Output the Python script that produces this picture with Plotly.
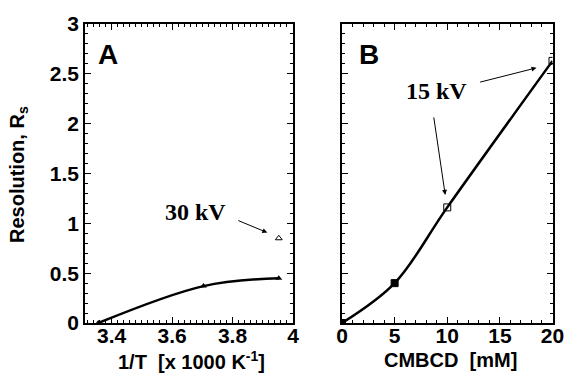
import plotly.graph_objects as go

# Panel A data: 1/T [x1000 K^-1] vs resolution
a_x = [3.356, 3.704, 3.953]
a_y = [0.0, 0.37, 0.45]
a30_x = [3.953]
a30_y = [0.85]

# Panel B data: CMBCD [mM] vs resolution
b_x = [0, 5, 10, 20]
b_y = [0.0, 0.40, 1.16, 2.63]
b_filled = [True, True, False, False]

y_ticks = [0, 0.5, 1, 1.5, 2, 2.5, 3]
y_ticklabels = ["0", "0.5", "1", "1.5", "2", "2.5", "3"]
a_ticks = [3.4, 3.6, 3.8, 4.0]
a_ticklabels = ["3.4", "3.6", "3.8", "4"]
b_ticks = [0, 5, 10, 15, 20]
b_ticklabels = ["0", "5", "10", "15", "20"]

W, H = 566, 374
sans = "Liberation Sans, Arial, sans-serif"
serif = "Liberation Serif, Times New Roman, serif"

fig = go.Figure()

fig.add_trace(go.Scatter(x=a_x, y=a_y, mode="lines+markers", line=dict(color="black", width=2.5, shape="spline"),
                         marker=dict(symbol="triangle-up", size=6, color="black"), xaxis="x", yaxis="y",
                         showlegend=False))
fig.add_trace(go.Scatter(x=a30_x, y=a30_y, mode="markers",
                         marker=dict(symbol="triangle-up-open", size=6, color="black", line=dict(width=1)),
                         xaxis="x", yaxis="y", showlegend=False))
fig.add_trace(go.Scatter(x=b_x, y=b_y, mode="lines", line=dict(color="black", width=2.5, shape="spline"),
                         xaxis="x2", yaxis="y2", showlegend=False))
fig.add_trace(go.Scatter(x=b_x, y=b_y, mode="markers",
                         marker=dict(symbol=["square" if f else "square-open" for f in b_filled], size=7,
                                     color="black", line=dict(width=1, color="black")),
                         xaxis="x2", yaxis="y2", showlegend=False))

common = dict(showline=True, linecolor="black", linewidth=1.5, mirror="allticks", ticks="inside",
              ticklen=6, tickwidth=1, tickcolor="black", showgrid=False, zeroline=False, automargin=False,
              tickfont=dict(family=sans, size=21, color="black", weight="bold"))

x0a, x1a = 85 / W, 293 / W
x0b, x1b = 342 / W, 552.5 / W
y0, y1 = 1 - 323 / H, 1 - 24 / H

fig.update_layout(
    width=W, height=H, margin=dict(l=0, r=0, t=0, b=0, pad=0, autoexpand=False),
    paper_bgcolor="white", plot_bgcolor="white",
    xaxis=dict(domain=[x0a, x1a], range=[3.312, 4.0], tickvals=a_ticks, ticktext=a_ticklabels,
               minor=dict(ticks="inside", ticklen=3, dtick=0.02, tick0=3.4, tickcolor="black"),
               anchor="y", ticklabelstandoff=-7, **common),
    yaxis=dict(domain=[y0, y1], range=[0, 3], tickvals=y_ticks, ticktext=y_ticklabels,
               minor=dict(ticks="inside", ticklen=3, dtick=0.1, tick0=0, tickcolor="black"),
               anchor="x", **common),
    xaxis2=dict(domain=[x0b, x1b], range=[0, 20], tickvals=b_ticks, ticktext=b_ticklabels,
                minor=dict(ticks="inside", ticklen=3, dtick=1, tick0=0, tickcolor="black"),
                anchor="y2", ticklabelstandoff=-7, **common),
    yaxis2=dict(domain=[y0, y1], range=[0, 3], tickvals=y_ticks, showticklabels=False,
                minor=dict(ticks="inside", ticklen=3, dtick=0.1, tick0=0, tickcolor="black"),
                anchor="x2", **common),
)

ann = []
tf = dict(family=sans, size=20, color="black", weight="bold")
# axis titles
ann.append(dict(xref="paper", yref="paper", x=191 / W, y=1 - 360 / H, xanchor="center", yanchor="middle",
                text="1/T  [x 1000 K<sup>-1</sup>]", showarrow=False, font=tf))
ann.append(dict(xref="paper", yref="paper", x=450 / W, y=1 - 360 / H, xanchor="center", yanchor="middle",
                text="CMBCD  [mM]", showarrow=False, font=tf))
ann.append(dict(xref="paper", yref="paper", x=18 / W, y=1 - 175 / H, xanchor="center", yanchor="middle",
                text="Resolution, R<sub>s</sub>", textangle=-90, showarrow=False, font=tf))
# panel letters
ann.append(dict(xref="x", yref="y", x=3.388, y=2.69, text="A", showarrow=False,
                font=dict(family=sans, size=28, color="black", weight="bold")))
ann.append(dict(xref="x2", yref="y2", x=2.57, y=2.69, text="B", showarrow=False,
                font=dict(family=sans, size=28, color="black", weight="bold")))
# voltage labels
ann.append(dict(xref="x", yref="y", x=3.679, y=1.114, text="30 kV", showarrow=False,
                font=dict(family=serif, size=24, color="black", weight="bold")))
ann.append(dict(xref="x2", yref="y2", x=8.95, y=2.33, text="15 kV", showarrow=False,
                font=dict(family=serif, size=24, color="black", weight="bold")))
# arrows
arrows = [
    ("x", "y", 3.814, 1.034, 3.915, 0.907),
    ("x2", "y2", 12.98, 2.413, 18.48, 2.56),
    ("x2", "y2", 8.70, 2.078, 9.81, 1.285),
]
for xr, yr, tx, ty, hx, hy in arrows:
    ann.append(dict(xref=xr, yref=yr, axref=xr, ayref=yr, x=hx, y=hy, ax=tx, ay=ty, text="",
                    showarrow=True, arrowhead=2, arrowsize=1, arrowwidth=1, arrowcolor="black"))

fig.update_layout(annotations=ann)
fig.write_html("out.html")
